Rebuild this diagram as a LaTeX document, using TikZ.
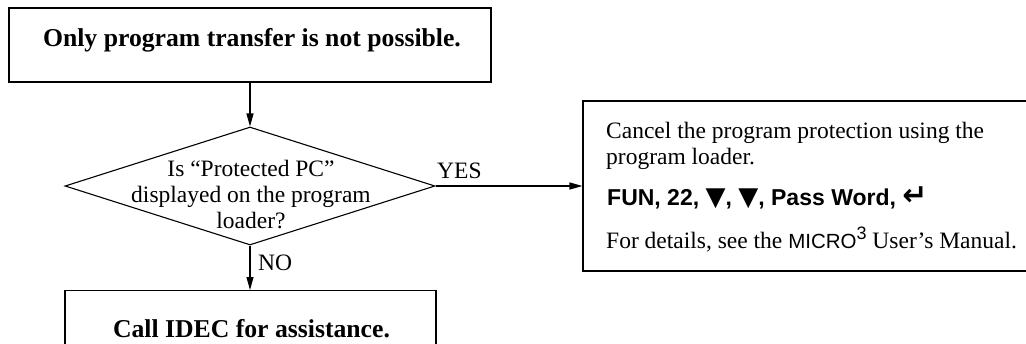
\documentclass[tikz,border=0pt]{standalone}
\usepackage{fontspec}
\setmainfont{Liberation Serif}
\newfontfamily\keyfont{Liberation Sans}
\newfontfamily\symfont{DejaVu Sans}
\newcommand\keydown{{\symfont\bfseries\fontsize{26}{26}\selectfont ▼}}
\newcommand\keyenter{{\symfont\bfseries\fontsize{30}{30}\selectfont ↵}}
\usetikzlibrary{arrows.meta,shapes.geometric}

\begin{document}
\begin{tikzpicture}[x=1pt,y=-1pt,
  box/.style={draw, line width=1.1pt, inner sep=0pt},
  flow/.style={line width=1.1pt, -{Triangle[length=13pt,width=7pt]}},
  headtext/.style={font=\fontsize{25.7}{30}\selectfont\bfseries, inner sep=0pt, anchor=base},
  bodytext/.style={font=\fontsize{23.5}{26}\selectfont, inner sep=0pt},
  keytext/.style={font=\fontsize{23}{26}\selectfont\keyfont\bfseries, inner sep=0pt}]
\path[use as bounding box, clip] (0,0) rectangle (1026,343);

% start of the check
\node[box, minimum width=482pt, minimum height=74pt] (start) at (250,45) {};
\node[headtext] (starttext) at (252,46) {Only program transfer is not possible.};

% decision (base anchor sits on the last line)
\node[box, diamond, minimum width=370pt, minimum height=118pt] (ask) at (250,186) {};
\node[bodytext, anchor=base, align=center] (asktext) at (251,228)
  {Is “Protected PC”\\ displayed on the program\\ loader?};

% YES branch: remove the protection
\node[box, minimum width=477pt, minimum height=170pt] (cancel) at (821.5,186) {};
\node[bodytext, anchor=base west] (cancel1) at (606,138) {Cancel the program protection using the};
\node[bodytext, anchor=base west] (cancel2) at (606,164) {program loader.};
\node[keytext, anchor=base west] (keys) at (607,205)
  {FUN, 22, \keydown, \keydown, Pass Word, \keyenter};
\node[bodytext, anchor=base west] (details) at (606,248)
  {For details, see the {\keyfont\fontsize{20.5}{26}\selectfont MICRO\raisebox{9pt}{\fontsize{18}{18}\selectfont 3}} User’s Manual.};

% NO branch
\node[box, minimum width=371pt, minimum height=110pt, anchor=north] (idec) at (250.5,290) {};
\node[headtext] (idectext) at (251.5,337) {Call IDEC for assistance.};

% connectors
\draw[flow] (start.south) -- (ask.north);
\draw[flow] (ask.south) -- (ask.south |- idec.north);
\draw[flow] (ask.east) -- (cancel.west);
\node[bodytext, anchor=base west] (yes) at (437,178) {YES};
\node[bodytext, anchor=base west] (no) at (258,270) {NO};
\end{tikzpicture}
\end{document}
